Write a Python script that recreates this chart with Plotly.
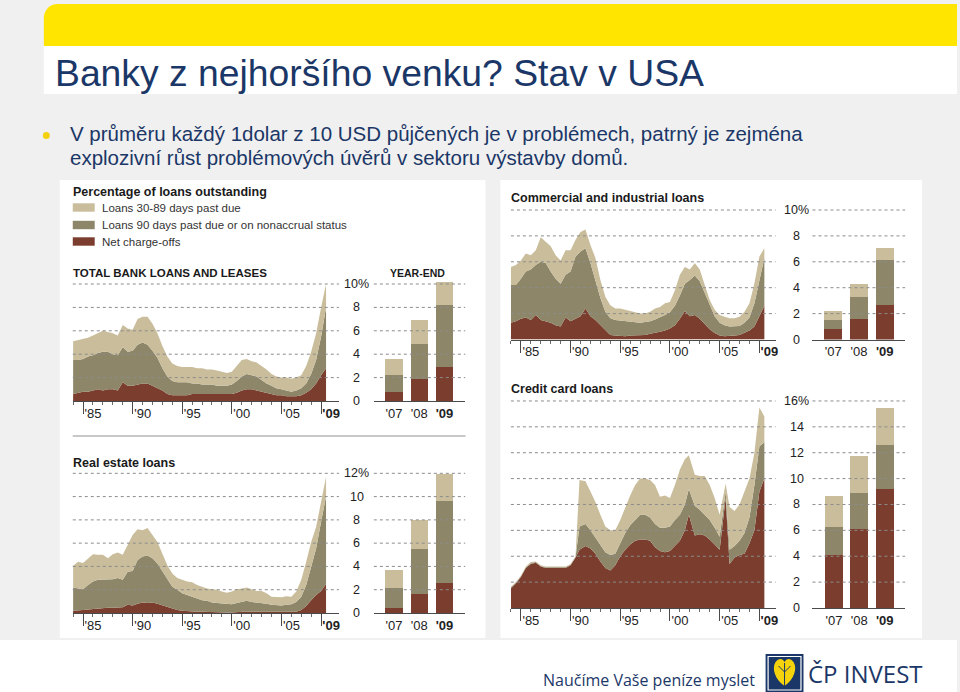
import plotly.graph_objects as go

W, H = 960, 692
def X(px): return px / W
def Y(py): return 1 - py / H

FONT = "Liberation Sans, Arial, sans-serif"
C30 = '#c9bd9b'   # Loans 30-89 days past due
C90 = '#8d8668'   # Loans 90 days past due / nonaccrual
CCO = '#7b3d2e'   # Net charge-offs
NAVY = '#1b3767'

# ---------------- DATA (percent of loans outstanding, half-year readings 1984.0 ... 2009.5) -------------
years = [1984 + 0.5 * i for i in range(52)]
# credit-card readings taken at the same dates, except at the sharp jumps (1990.9, 2001.9, 2005.6)
card_years = [1984.0,1984.5,1985.0,1985.5,1986.0,1986.5,1987.0,1987.5,1988.0,1988.5,
              1989.0,1989.5,1990.0,1990.5,1990.9,1991.5,1992.0,1992.5,1993.0,1993.5,
              1994.0,1994.5,1995.0,1995.5,1996.0,1996.5,1997.0,1997.5,1998.0,1998.5,
              1999.0,1999.5,2000.0,2000.5,2001.0,2001.5,2001.9,2002.5,2003.0,2003.5,
              2004.0,2004.5,2005.0,2005.6,2006.0,2006.5,2007.0,2007.5,2008.0,2008.5,
              2009.0,2009.5]
bar_years = ["'07", "'08", "'09"]

# Total bank loans and leases: cumulative levels (charge-offs, +90 days, +30-89 days)
total_co = [0.6,0.7,0.8,0.8,0.9,1.0,0.9,1.0,1.0,0.9, 1.6,1.3,1.3,1.4,1.5,1.5,1.3,1.1,0.9,0.6,
            0.5,0.5,0.5,0.5,0.6,0.6,0.6,0.6,0.6,0.6, 0.6,0.6,0.6,0.7,0.9,1.0,1.0,0.9,0.8,0.7,
            0.6,0.5,0.5,0.4,0.4,0.4,0.5,0.7,1.0,1.5, 2.2,2.8]
total_90 = [3.5,3.5,3.6,3.8,3.9,4.1,4.2,4.2,4.0,3.9, 4.6,4.2,4.3,4.8,5.0,4.8,4.3,3.7,2.8,2.1,
            1.7,1.6,1.6,1.6,1.5,1.5,1.4,1.4,1.4,1.3, 1.3,1.3,1.4,1.7,2.1,2.3,2.2,2.1,1.8,1.5,
            1.3,1.1,1.0,0.9,0.8,0.9,1.1,1.5,2.3,3.5, 5.5,8.0]
total_30 = [5.1,5.2,5.3,5.4,5.6,5.8,6.0,5.9,5.8,5.6, 6.5,6.2,6.1,7.0,7.2,7.2,6.6,5.8,4.7,3.8,
            3.2,3.0,2.9,2.9,2.9,2.8,2.8,2.7,2.7,2.6, 2.5,2.4,2.5,3.0,3.5,3.6,3.4,3.3,3.0,2.7,
            2.3,2.1,2.0,2.0,1.9,2.0,2.2,3.0,4.2,5.8, 8.0,10.0]
total_bar_co = [0.8, 1.9, 2.9]
total_bar_90 = [1.4, 3.0, 5.3]
total_bar_30 = [1.4, 2.0, 2.0]

# Commercial and industrial loans
comm_co = [1.3,1.4,1.6,1.7,1.5,1.9,1.5,1.4,1.3,1.1, 1.0,1.7,1.4,1.6,1.8,2.4,1.8,1.5,1.1,0.7,
           0.35,0.3,0.25,0.25,0.3,0.3,0.3,0.35,0.45,0.5, 0.6,0.7,0.85,1.1,1.6,2.2,1.8,1.9,1.6,1.2,
           0.8,0.5,0.3,0.25,0.25,0.3,0.35,0.5,0.7,1.0, 1.8,2.6]
comm_90 = [4.2,4.2,4.7,5.25,5.4,5.75,6.0,5.9,5.25,4.7, 4.3,5.0,5.25,6.4,6.8,7.05,5.9,4.6,3.2,2.15,
           1.65,1.5,1.45,1.4,1.35,1.3,1.3,1.35,1.4,1.55, 1.7,1.9,2.1,2.6,3.4,4.3,4.6,4.95,4.5,3.6,
           2.6,1.8,1.3,1.1,1.0,1.0,1.05,1.3,1.7,2.8, 4.6,6.3]
comm_30 = [5.6,5.75,6.1,6.65,6.5,6.9,7.9,7.55,7.2,6.5, 6.1,6.9,6.9,7.7,8.3,8.5,7.3,6.3,4.6,3.3,
           2.65,2.4,2.4,2.3,2.2,2.15,2.0,2.0,2.15,2.4, 2.5,2.8,2.9,3.8,5.0,5.6,5.4,5.9,5.4,4.2,
           3.05,2.3,1.9,1.75,1.65,1.65,1.75,2.15,2.8,4.35, 6.4,7.05]
comm_bar_co = [0.82, 1.60, 2.63]
comm_bar_90 = [0.67, 1.67, 3.48]
comm_bar_30 = [0.73, 0.98, 0.93]

# Real estate loans
real_co = [0.2,0.2,0.25,0.3,0.35,0.4,0.4,0.45,0.45,0.45, 0.5,0.7,0.65,0.8,0.9,0.85,0.9,0.8,0.65,0.5,
           0.35,0.25,0.2,0.15,0.12,0.1,0.1,0.08,0.06,0.06, 0.05,0.05,0.05,0.08,0.12,0.12,0.1,0.1,0.1,0.08,
           0.06,0.05,0.05,0.05,0.06,0.1,0.25,0.6,1.1,1.55, 1.9,2.5]
real_90 = [2.2,2.1,2.05,2.4,2.7,2.85,2.85,2.9,2.9,3.0, 2.85,3.55,3.6,4.55,4.85,4.95,4.7,4.25,3.55,2.85,
           2.25,2.0,1.7,1.55,1.4,1.25,1.1,1.05,0.9,0.85, 0.8,0.75,0.75,0.85,0.95,1.05,0.95,0.9,0.9,0.8,
           0.7,0.65,0.65,0.7,0.75,0.95,1.4,2.4,4.1,5.55, 7.85,10.0]
real_30 = [4.05,4.4,4.3,4.7,5.05,5.0,5.0,4.7,5.05,5.2, 5.0,5.85,6.7,7.2,7.1,7.3,6.7,6.1,5.1,4.1,
           3.4,3.0,2.85,2.7,2.65,2.4,2.25,2.1,2.05,2.0, 1.85,1.75,1.85,2.05,2.1,2.2,2.05,1.9,1.9,1.7,
           1.4,1.35,1.35,1.45,1.4,1.85,2.85,4.4,6.1,7.4, 9.4,11.7]
real_bar_co = [0.43, 1.64, 2.56]
real_bar_90 = [1.75, 3.88, 7.10]
real_bar_30 = [1.50, 2.47, 2.27]

# Credit card loans
card_co = [1.5,1.9,2.4,3.1,3.4,3.5,3.2,3.1,3.1,3.1, 3.1,3.1,3.3,3.9,4.5,4.8,4.6,4.2,3.6,3.1,
           2.9,3.3,4.0,4.5,4.9,5.2,5.3,5.3,5.2,4.7, 4.4,4.3,4.4,4.8,5.2,6.0,7.2,5.6,5.7,5.6,
           5.3,4.9,4.5,8.5,3.4,3.9,4.1,4.2,5.0,6.0, 9.0,10.0]
card_90 = [1.6,1.95,2.45,3.15,3.45,3.55,3.25,3.15,3.15,3.15, 3.15,3.15,3.35,3.95,6.3,6.5,6.0,5.4,4.8,4.3,
           4.1,4.2,5.0,5.8,6.4,6.8,7.2,7.2,7.0,6.5, 6.2,6.2,6.3,6.8,7.2,8.0,9.2,7.9,7.6,7.2,
           6.8,6.2,5.5,9.0,4.5,4.8,5.2,5.8,7.0,9.5, 12.5,12.8]
card_30 = [1.65,2.0,2.5,3.2,3.55,3.6,3.3,3.2,3.2,3.2, 3.2,3.2,3.4,4.0,9.9,9.8,9.0,8.2,7.2,6.3,
           6.0,6.0,6.8,7.8,8.7,9.5,10.0,10.0,9.9,9.5, 8.6,8.7,8.5,9.5,10.7,11.5,11.8,10.3,10.2,10.2,
           9.5,8.5,7.2,9.6,7.8,7.5,8.0,9.0,10.0,12.0, 15.5,14.8]
card_bar_co = [4.08, 6.14, 9.17]
card_bar_90 = [2.21, 2.77, 3.44]
card_bar_30 = [2.34, 2.85, 2.85]

x_tickvals = [1985, 1990, 1995, 2000, 2005, 2009]
x_ticktext = ["'85", "'90", "'95", "'00", "'05", "<b>'09</b>"]
minor_years = list(range(1984, 2010))
legend_labels = ["Loans 30-89 days past due",
                 "Loans 90 days past due or on nonaccrual status",
                 "Net charge-offs"]

# ---------------- LAYOUT GEOMETRY (pixels) ----------------
panels = [
    dict(x=years, co=total_co, m=total_90, t=total_30, b=(total_bar_co, total_bar_90, total_bar_30),
         ax=(73, 340), x85=83.3, ppy=9.95, y0=401, ppu=11.7, ymax=10.6, ticks=[0, 2, 4, 6, 8, 10],
         bdom=(375, 466.7), bc0=395.3, bsp=25.25, bw=17.3, ylx=358),
    dict(x=years, co=comm_co, m=comm_90, t=comm_30, b=(comm_bar_co, comm_bar_90, comm_bar_30),
         ax=(512.5, 778), x85=522.5, ppy=9.97, y0=339.5, ppu=12.95, ymax=10.6, ticks=[0, 2, 4, 6, 8, 10],
         bdom=(815, 908), bc0=835.8, bsp=25.85, bw=18.3, ylx=799),
    dict(x=years, co=real_co, m=real_90, t=real_30, b=(real_bar_co, real_bar_90, real_bar_30),
         ax=(73, 340), x85=83.3, ppy=9.95, y0=613, ppu=11.64, ymax=12.6, ticks=[0, 2, 4, 6, 8, 10, 12],
         bdom=(375, 466.7), bc0=395.3, bsp=25.25, bw=17.3, ylx=358),
    dict(x=card_years, co=card_co, m=card_90, t=card_30, b=(card_bar_co, card_bar_90, card_bar_30),
         ax=(512.5, 778), x85=522.5, ppy=9.97, y0=608, ppu=12.94, ymax=16.8,
         ticks=[0, 2, 4, 6, 8, 10, 12, 14, 16],
         bdom=(815, 908), bc0=836.5, bsp=25.5, bw=18.0, ylx=799),
]

fig = go.Figure()
layout = {}
shapes = []
annotations = []

def ann(x, y, text, size, color='#1a1a1a', xanchor='left', family=FONT):
    annotations.append(dict(x=X(x), y=Y(y), xref='paper', yref='paper',
                            text=text, showarrow=False, xanchor=xanchor, yanchor='middle',
                            font=dict(size=size, color=color, family=family)))

def rect(x0, y0, x1, y1, color, layer='below', line=None):
    shapes.append(dict(type='rect', xref='paper', yref='paper', x0=X(x0), x1=X(x1), y0=Y(y1), y1=Y(y0),
                       fillcolor=color, line=line or dict(width=0), layer=layer))

def path(segs, color, layer='above', line=None):
    s = ''
    for cmd, pts in segs:
        s += cmd + ' '.join(f'{X(pts[i]):.5f},{Y(pts[i+1]):.5f}' for i in range(0, len(pts), 2)) + ' '
    shapes.append(dict(type='path', xref='paper', yref='paper', path=s + 'Z', fillcolor=color,
                       line=line or dict(width=0), layer=layer))

# background decorations
rect(0, 640, 960, 692, '#ffffff')
path([('M', [44, 46]), ('L', [44, 18]), ('C', [44, 10, 50, 4, 58, 4]), ('L', [960, 4]), ('L', [960, 46])],
     '#ffe500', layer='below')
rect(44, 46, 960, 94, '#ffffff')
rect(60, 180, 487, 638, '#ffffff')
rect(502, 180, 925, 638, '#ffffff')

for i, p in enumerate(panels):
    a, b = 2 * i + 1, 2 * i + 2
    xa, ya = ('x' if a == 1 else f'x{a}'), ('y' if a == 1 else f'y{a}')
    xb, yb = f'x{b}', f'y{b}'
    ydom = [Y(p['y0']), Y(p['y0'] - p['ymax'] * p['ppu'])]
    xr0 = 1985 - (p['x85'] - p['ax'][0]) / p['ppy']
    xr1 = xr0 + (p['ax'][1] - p['ax'][0]) / p['ppy']
    br0 = -(p['bc0'] - p['bdom'][0]) / p['bsp']
    br1 = br0 + (p['bdom'][1] - p['bdom'][0]) / p['bsp']

    # stacked areas (cumulative levels)
    fig.add_trace(go.Scatter(x=p['x'], y=p['co'], mode='lines', fill='tozeroy', fillcolor=CCO,
                             line=dict(width=0, color=CCO), xaxis=xa, yaxis=ya, hoverinfo='skip'))
    fig.add_trace(go.Scatter(x=p['x'], y=p['m'], mode='lines', fill='tonexty', fillcolor=C90,
                             line=dict(width=0, color=C90), xaxis=xa, yaxis=ya, hoverinfo='skip'))
    fig.add_trace(go.Scatter(x=p['x'], y=p['t'], mode='lines', fill='tonexty', fillcolor=C30,
                             line=dict(width=0, color=C30), xaxis=xa, yaxis=ya, hoverinfo='skip'))
    # stacked year-end bars
    for vals, col in zip(p['b'], (CCO, C90, C30)):
        fig.add_trace(go.Bar(x=bar_years, y=vals, marker=dict(color=col, line=dict(width=0)),
                             width=p['bw'] / p['bsp'], xaxis=xb, yaxis=yb, hoverinfo='skip'))

    layout['xaxis' if a == 1 else f'xaxis{a}'] = dict(
        domain=[X(p['ax'][0]), X(p['ax'][1])], range=[xr0, xr1], anchor=ya, fixedrange=True,
        showgrid=False, zeroline=False, showline=True, linecolor='#4a4a4a', linewidth=1,
        tickmode='array', tickvals=x_tickvals, ticktext=x_ticktext, ticks='outside', ticklen=12,
        tickwidth=1, tickcolor='#4a4a4a', tickfont=dict(size=13, color='#222', family=FONT),
        ticklabelshift=10, ticklabelstandoff=-12,
        minor=dict(tickmode='array', tickvals=minor_years, ticks='outside', ticklen=3,
                   tickcolor='#6a6a6a', tickwidth=1, showgrid=False))
    layout['yaxis' if a == 1 else f'yaxis{a}'] = dict(
        domain=ydom, range=[0, p['ymax']], anchor=xa, visible=False, fixedrange=True)
    layout[f'xaxis{b}'] = dict(
        domain=[X(p['bdom'][0]), X(p['bdom'][1])], range=[br0, br1], type='category', anchor=yb,
        fixedrange=True, showgrid=False, zeroline=False, showline=True, linecolor='#4a4a4a',
        linewidth=1, ticks='', tickmode='array', tickvals=bar_years,
        ticktext=["'07", "'08", "<b>'09</b>"], tickfont=dict(size=13, color='#222', family=FONT))
    layout[f'yaxis{b}'] = dict(domain=ydom, range=[0, p['ymax']], anchor=xb, visible=False,
                               fixedrange=True)

    # dotted gridlines (drawn above the fills) and value labels
    for v in p['ticks']:
        if v > 0:
            for (gx0, gx1) in (p['ax'], p['bdom']):
                shapes.append(dict(type='line', xref='paper', yref=ya, x0=X(gx0), x1=X(gx1), y0=v, y1=v,
                                   line=dict(color='#8c8c8c', width=1, dash='dot'), layer='above'))
        label = f'{v}%' if v == p['ticks'][-1] else str(v)
        annotations.append(dict(x=X(p['ylx']), y=v, xref='paper', yref=ya, text=label, showarrow=False,
                                xanchor='center', yanchor='middle',
                                font=dict(size=12.5, color='#222', family=FONT)))

# legend block
ann(71, 192, '<b>Percentage of loans outstanding</b>', 12.5)
for k, (lab, col) in enumerate(zip(legend_labels, (C30, C90, CCO))):
    yc = [207.5, 225, 241.5][k]
    rect(73, yc - 4.2, 95, yc + 4.2, col, layer='above')
    ann(100, yc, lab, 11.5, '#333')

# panel titles
ann(71, 273, '<b>TOTAL BANK LOANS AND LEASES</b>', 11.5)
ann(418.5, 273, '<b>YEAR-END</b>', 10.5, xanchor='center')
ann(511, 198, '<b>Commercial and industrial loans</b>', 12.5)
ann(511, 388.5, '<b>Credit card loans</b>', 12.5)
ann(71, 463, '<b>Real estate loans</b>', 12.5)
shapes.append(dict(type='line', xref='paper', yref='paper', x0=X(73), x1=X(467), y0=Y(436), y1=Y(436),
                   line=dict(color='#c8c8c8', width=2), layer='above'))

# slide header and bullet
ann(53, 73, 'Banky z nejhoršího venku? Stav v USA', 37.3, NAVY)
shapes.append(dict(type='circle', xref='paper', yref='paper', x0=X(43), x1=X(50), y0=Y(139), y1=Y(132),
                   fillcolor='#f3d10f', line=dict(width=0)))
ann(68, 133, 'V průměru každý 1dolar z 10 USD půjčených je v problémech, patrný je zejména', 20.5, NAVY)
ann(68, 157, 'explozivní růst problémových úvěrů v sektoru výstavby domů.', 20.5, NAVY)

# footer
ann(543, 680, 'Naučíme Vaše peníze myslet', 16, NAVY, family='Open Sans, Noto Sans, sans-serif')
rect(768, 654, 806, 692, NAVY, layer='above')
shapes.append(dict(type='rect', xref='paper', yref='paper', x0=X(770.5), x1=X(803.5), y0=Y(690), y1=Y(656.5),
                   line=dict(color='#ffffff', width=1.2), fillcolor='rgba(0,0,0,0)', layer='above'))
path([('M', [787, 686]), ('C', [777, 679, 774, 668, 778, 662]), ('C', [781, 658, 785, 658, 787, 662]),
      ('C', [789, 658, 793, 658, 796, 662]), ('C', [800, 668, 797, 679, 787, 686])], '#f4d20c')
for (lx0, ly0, lx1, ly1) in [(787, 663, 787, 686), (787, 672, 781, 666), (787, 672, 793, 666)]:
    shapes.append(dict(type='line', xref='paper', yref='paper', x0=X(lx0), y0=Y(ly0), x1=X(lx1), y1=Y(ly1),
                       line=dict(color=NAVY, width=1), layer='above'))
ann(809, 673, 'ČP INVEST', 24, NAVY, family='Open Sans, Noto Sans, sans-serif')

fig.update_layout(width=W, height=H, margin=dict(l=0, r=0, t=0, b=0, pad=0),
                  paper_bgcolor='#f0f0f0', plot_bgcolor='rgba(0,0,0,0)', showlegend=False,
                  barmode='stack', bargap=0, shapes=shapes, annotations=annotations,
                  font=dict(family=FONT), **layout)

fig.write_html("out.html", config={'displayModeBar': False, 'staticPlot': True})
